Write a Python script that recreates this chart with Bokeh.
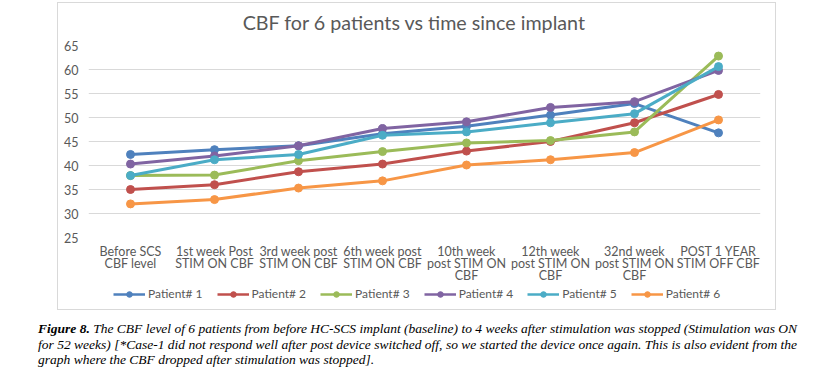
from bokeh.plotting import figure
from bokeh.models import FactorRange, Range1d, FixedTicker, Legend, LegendItem, Label, Div
from bokeh.layouts import column
from bokeh.embed import file_html
from bokeh.resources import INLINE

categories = [
    "Before SCS\nCBF level",
    "1st week Post\nSTIM ON CBF",
    "3rd week post\nSTIM ON CBF",
    "6th week post\nSTIM ON CBF",
    "10th week\npost STIM ON\nCBF",
    "12th week\npost STIM ON\nCBF",
    "32nd week\npost STIM ON\nCBF",
    "POST 1 YEAR\nSTIM OFF CBF",
]
series_names = ["Patient# 1", "Patient# 2", "Patient# 3", "Patient# 4", "Patient# 5", "Patient# 6"]
patient1 = [42.3, 43.3, 44.1, 46.6, 48.2, 50.5, 52.9, 46.8]
patient2 = [35.0, 36.0, 38.7, 40.3, 43.0, 45.0, 48.9, 54.8]
patient3 = [37.9, 38.0, 41.0, 42.9, 44.7, 45.2, 47.0, 62.8]
patient4 = [40.3, 42.0, 44.1, 47.7, 49.1, 52.1, 53.3, 59.8]
patient5 = [37.9, 41.2, 42.3, 46.3, 47.0, 48.9, 50.8, 60.6]
patient6 = [32.0, 32.9, 35.3, 36.8, 40.1, 41.2, 42.7, 49.5]
y_ticks = [25, 30, 35, 40, 45, 50, 55, 60, 65]
title_text = "CBF for 6 patients vs time since implant"

colors = ["#4F81BD", "#C0504D", "#9BBB59", "#8064A2", "#4BACC6", "#F79646"]
all_series = [patient1, patient2, patient3, patient4, patient5, patient6]

FONT = "Lato"
GRAY = "#595959"
BOX_W = 719


def blank_strip(height, top_margin, x_range, y_range):
    f = figure(width=BOX_W, height=height, x_range=x_range, y_range=y_range,
               x_axis_location=None, y_axis_location=None,
               output_backend="svg", toolbar_location=None,
               min_border_left=0, min_border_right=0, min_border_top=0, min_border_bottom=0)
    f.outline_line_color = None
    f.grid.visible = False
    f.margin = (top_margin, 0, 0, 58)
    return f


# ---- title strip ----
head = blank_strip(34, 3, Range1d(0, 1), Range1d(0, 1))
head.add_layout(Label(
    x=326, y=15, x_units="screen", y_units="screen", text=title_text,
    text_align="center", text_baseline="middle", text_font=FONT,
    text_font_size="19.7px", text_color=GRAY,
))

# ---- chart ----
p = figure(
    width=BOX_W, height=249,
    x_range=FactorRange(*categories, range_padding=0),
    y_range=Range1d(25, 65),
    output_backend="svg", toolbar_location=None,
    min_border_left=30, min_border_right=17, min_border_top=8, min_border_bottom=48,
)
p.x_range.factor_padding = 0
p.outline_line_color = None
p.margin = (0, 0, 0, 58)
p.xgrid.grid_line_color = None
p.ygrid.grid_line_color = "#D9D9D9"
p.ygrid.grid_line_width = 1
p.yaxis.ticker = FixedTicker(ticks=y_ticks)
for ax in (p.xaxis, p.yaxis):
    ax.axis_line_color = None
    ax.major_tick_line_color = None
    ax.minor_tick_line_color = None
    ax.major_tick_out = 0
    ax.major_tick_in = 0
    ax.major_label_text_color = GRAY
    ax.major_label_text_font = FONT
    ax.major_label_text_font_size = "12.5px"
p.yaxis.major_label_standoff = 10
p.xaxis.major_label_standoff = 6
p.xaxis.major_label_text_line_height = 0.82

for vals, c in zip(all_series, colors):
    p.line(categories, vals, line_color=c, line_width=3)
    p.scatter(categories, vals, size=8, fill_color=c, line_color=c)

# ---- legend strip (same series, drawn outside its visible y-range; only the legend shows) ----
leg = blank_strip(16, 0, FactorRange(*categories), Range1d(0, 1))
items = []
for name, vals, c in zip(series_names, all_series, colors):
    lr = leg.line(categories, vals, line_color=c, line_width=2.5)
    sr = leg.scatter(categories, vals, size=7, fill_color=c, line_color=c)
    items.append(LegendItem(label=name, renderers=[lr, sr]))
legend = Legend(
    items=items, orientation="horizontal", location=(25, 1),
    glyph_width=32, glyph_height=14, label_height=14, label_standoff=3, spacing=14,
    padding=0, margin=0, border_line_color=None, background_fill_alpha=0,
    label_text_font=FONT, label_text_font_size="12px", label_text_color=GRAY,
)
leg.add_layout(legend, "center")

# ---- caption ----
line_style = "font-family:'Liberation Serif','Times New Roman',serif;font-style:italic;font-size:13.5px;line-height:15.5px;color:#000;"
frame_box = ('<div style="position:fixed;left:57px;top:2px;width:719px;height:308px;'
             'border:1px solid #D9D9D9;pointer-events:none;"></div>')
caption_html = (
    frame_box +
    f'<div style="{line_style}text-align:justify;text-align-last:justify;white-space:nowrap;">'
    '<b>Figure 8.</b> The CBF level of 6 patients from before HC-SCS implant (baseline) to 4 weeks after stimulation was stopped (Stimulation was ON</div>'
    f'<div style="{line_style}text-align:justify;text-align-last:justify;white-space:nowrap;">'
    'for 52 weeks) [*Case-1 did not respond well after post device switched off, so we started the device once again. This is also evident from the</div>'
    f'<div style="{line_style}text-align:left;">'
    'graph where the CBF dropped after stimulation was stopped].</div>'
)
caption = Div(text=caption_html, width=769, margin=(19, 0, 0, 38))

layout = column(head, p, leg, caption)
open("out.html", "w").write(file_html(layout, INLINE))
